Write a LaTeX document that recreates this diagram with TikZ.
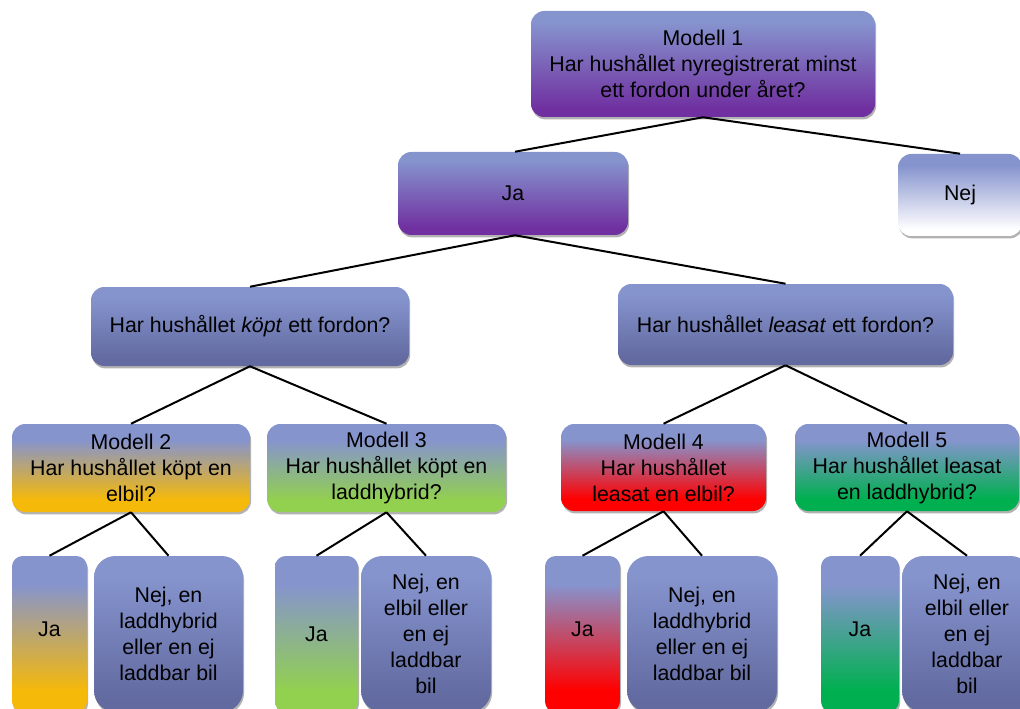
\documentclass[tikz,border=0pt]{standalone}
\usepackage{fontspec}
\setmainfont{Liberation Sans}
\usetikzlibrary{shadows}
\definecolor{lav}{RGB}{134,148,206}
\definecolor{cpur}{RGB}{112,48,160}
\definecolor{cblue}{RGB}{98,106,160}
\definecolor{cgold}{RGB}{245,185,10}
\definecolor{clgreen}{RGB}{146,208,80}
\definecolor{cred}{RGB}{255,0,0}
\definecolor{cgreen}{RGB}{0,176,80}
\pgfdeclareverticalshading{shPurple}{100bp}{color(0bp)=(cpur); color(29bp)=(cpur); color(70bp)=(lav); color(100bp)=(lav)}
\pgfdeclareverticalshading{shWhite}{100bp}{color(0bp)=(white); color(29bp)=(white); color(68bp)=(lav); color(100bp)=(lav)}
\pgfdeclareverticalshading{shBlue}{100bp}{color(0bp)=(cblue); color(29bp)=(cblue); color(69bp)=(lav); color(100bp)=(lav)}
\pgfdeclareverticalshading{shGold}{100bp}{color(0bp)=(cgold); color(32bp)=(cgold); color(66bp)=(lav); color(100bp)=(lav)}
\pgfdeclareverticalshading{shLGreen}{100bp}{color(0bp)=(clgreen); color(32bp)=(clgreen); color(66bp)=(lav); color(100bp)=(lav)}
\pgfdeclareverticalshading{shRed}{100bp}{color(0bp)=(cred); color(32bp)=(cred); color(66bp)=(lav); color(100bp)=(lav)}
\pgfdeclareverticalshading{shGreen}{100bp}{color(0bp)=(cgreen); color(32bp)=(cgreen); color(66bp)=(lav); color(100bp)=(lav)}
\begin{document}
\begin{tikzpicture}[x=0.75pt,y=-0.75pt,
  box/.style={draw=none, rounded corners=#1, align=center, text=black,
    font=\fontsize{16}{19.5}\selectfont, inner sep=1pt,
    drop shadow={shadow xshift=0.8pt, shadow yshift=-1.8pt, opacity=0.3, fill=black}},
  box/.default=10pt,
  sz/.style 2 args={minimum width=#1*0.75pt, minimum height=#2*0.75pt},
  conn/.style={line width=1.5pt, black}]
\clip (0,0) rectangle (1020,709);
\useasboundingbox (0,0) rectangle (1020,709);
% level 1
\node[box, sz={344}{106}, shading=shPurple] (m1) at (703,64)
  {Modell 1\\Har hushållet nyregistrerat minst\\ett fordon under året?};
% level 2
\node[box, sz={230}{83}, shading=shPurple] (ja1) at (513,193.5) {Ja};
\node[box, sz={124}{82}, shading=shWhite] (nej1) at (960,195) {\raisebox{-2pt}{Nej}};
% level 3
\node[box, sz={318}{79}, shading=shBlue] (kopt) at (250,326.5)
  {Har hushållet \textit{köpt} ett fordon?};
\node[box, sz={335}{81}, shading=shBlue] (leas) at (785.5,324.5)
  {Har hushållet \textit{leasat} ett fordon?};
% level 4
\node[box, sz={238}{88}, shading=shGold] (m2) at (131,468)
  {Modell 2\\Har hushållet köpt en\\elbil?};
\node[box, sz={239}{88}, shading=shLGreen] (m3) at (386.5,468)
  {Modell 3\\Har hushållet köpt en\\laddhybrid?};
\node[box, sz={205}{87}, shading=shRed] (m4) at (663.5,467.5)
  {Modell 4\\Har hushållet\\leasat en elbil?};
\node[box, sz={224}{87}, shading=shGreen] (m5) at (907,467.5)
  {Modell 5\\Har hushållet leasat\\en laddhybrid?};
% level 5
\node[box=8pt, sz={75}{156}, shading=shGold] (ja2) at (49.5,634) {\raisebox{6.75pt}{Ja}};
\node[box=16pt, sz={149}{156}, shading=shBlue] (nej2) at (168.5,634)
  {Nej, en\\laddhybrid\\eller en ej\\laddbar bil};
\node[box=8pt, sz={83}{156}, shading=shLGreen] (ja3) at (316.5,634) {Ja};
\node[box=16pt, sz={130}{156}, shading=shBlue] (nej3) at (426,634)
  {Nej, en\\elbil eller\\en ej\\laddbar\\bil};
\node[box=8pt, sz={75}{156}, shading=shRed] (ja4) at (582.5,634) {\raisebox{6.75pt}{Ja}};
\node[box=16pt, sz={150}{156}, shading=shBlue] (nej4) at (702,634)
  {Nej, en\\laddhybrid\\eller en ej\\laddbar bil};
\node[box=8pt, sz={78}{156}, shading=shGreen] (ja5) at (860,634) {\raisebox{6.75pt}{Ja}};
\node[box=16pt, sz={130}{156}, shading=shBlue] (nej5) at (967,634)
  {Nej, en\\elbil eller\\en ej\\laddbar\\bil};
% connectors
\draw[conn] (m1.south) -- ([xshift=1.5pt]ja1.north);
\draw[conn] (m1.south) -- (nej1.north);
\draw[conn] ([xshift=1.5pt]ja1.south) -- (kopt.north);
\draw[conn] ([xshift=1.5pt]ja1.south) -- (leas.north);
\draw[conn] (kopt.south) -- (m2.north);
\draw[conn] (kopt.south) -- (m3.north);
\draw[conn] (leas.south) -- (m4.north);
\draw[conn] (leas.south) -- (m5.north);
\draw[conn] (m2.south) -- (ja2.north);
\draw[conn] (m2.south) -- (nej2.north);
\draw[conn] (m3.south) -- (ja3.north);
\draw[conn] (m3.south) -- (nej3.north);
\draw[conn] (m4.south) -- (ja4.north);
\draw[conn] (m4.south) -- (nej4.north);
\draw[conn] (m5.south) -- (ja5.north);
\draw[conn] (m5.south) -- (nej5.north);
\end{tikzpicture}
\end{document}
